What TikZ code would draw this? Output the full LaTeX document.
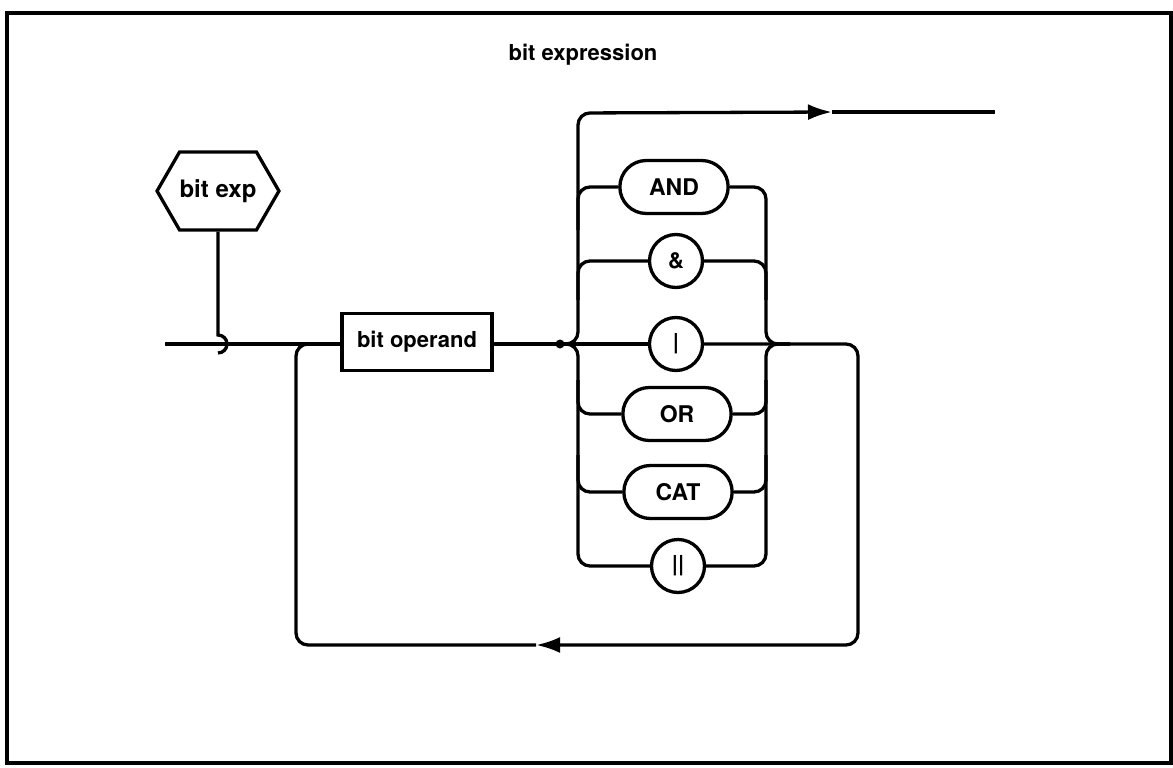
\documentclass[tikz,border=0pt]{standalone}
\usepackage{fontspec}
\setsansfont{TeX Gyre Heros}
\usetikzlibrary{shapes.misc,shapes.symbols,arrows.meta}

\begin{document}
\begin{tikzpicture}[x=1pt, y=1pt, line width=3.3pt,
    lbl/.style={font=\sffamily\bfseries\fontsize{22}{26}\selectfont},
    termbox/.style={lbl, draw, rounded rectangle, minimum width=115, minimum height=53},
    termcirc/.style={lbl, draw, circle, minimum size=53, inner sep=0pt},
    ntbox/.style={lbl, draw, minimum width=150, minimum height=57},
    flow/.style={rounded corners=12},
    tip/.style={-{Latex[length=24pt,width=16pt]}}]
    \useasboundingbox (0,0) rectangle (1173,-768);

    % Frame and title
    \draw (7,-13) rectangle (1171,-763);
    \node[lbl] (title) at (583,-55) {bit expression};

    % Name of the rule
    \node[lbl, draw, signal, signal to=west and east, signal pointer angle=120,
          minimum width=117, minimum height=78, inner xsep=0pt,
          font=\sffamily\bfseries\fontsize{24}{28}\selectfont] (bitexp) at (218,-191) {bit exp};
    \coordinate (hook) at (218,-335);
    \draw (bitexp.south) -- (hook) arc[start angle=90, end angle=-90, radius=9pt];

    % Operand
    \coordinate (entry) at (165,-344);
    \node[ntbox] (operand) at (417,-342) {bit operand};
    \draw (entry) -- (operand.west |- entry);

    % Operators
    \node[termbox, font=\sffamily\bfseries\fontsize{23}{27}\selectfont] (and) at (674,-187) {AND};
    \node[termcirc] (amp) at (676,-261) {\&};
    \node[termcirc] (bar) at (676,-344) {|};
    \node[termbox, font=\sffamily\bfseries\fontsize{23}{27}\selectfont] (or) at (677,-414) {OR};
    \node[termbox, font=\sffamily\bfseries\fontsize{23}{27}\selectfont] (cat) at (678,-492) {CAT};
    \node[termcirc] (dbar) at (678,-566) {||};

    \coordinate (split) at (560,-344);
    \coordinate (join) at (790,-344);
    \coordinate (toparrow) at (832,-112);
    \coordinate (exit) at (995,-112);
    \coordinate (backarrow) at (536,-645);
    \fill (split) circle (4.5pt);

    % Left bus
    \draw (operand.east |- split) -- (split) -- (bar.west);
    \draw[flow, tip] (split) -| (578,-113) -- (toparrow);
    \draw (toparrow) -- (exit);
    \draw[flow] (split) -| (578,-566) -- (dbar.west);
    \draw[flow] (578,-230) |- (and.west);
    \draw[flow] (578,-300) |- (amp.west);
    \draw[flow] (578,-380) |- (or.west);
    \draw[flow] (578,-455) |- (cat.west);

    % Right bus
    \draw[flow] (and.east) -| (766,-344) -- (join);
    \draw[flow] (amp.east) -| (766,-300);
    \draw[flow] (dbar.east) -| (766,-344) -- (join);
    \draw[flow] (or.east) -| (766,-380);
    \draw[flow] (cat.east) -| (766,-455);

    % Loop back
    \draw[flow, tip] (bar.east) -- (join) -| (858,-645) -- (backarrow);
    \draw[flow] (backarrow) -| (296,-344) -- (operand.west |- split);
\end{tikzpicture}
\end{document}
